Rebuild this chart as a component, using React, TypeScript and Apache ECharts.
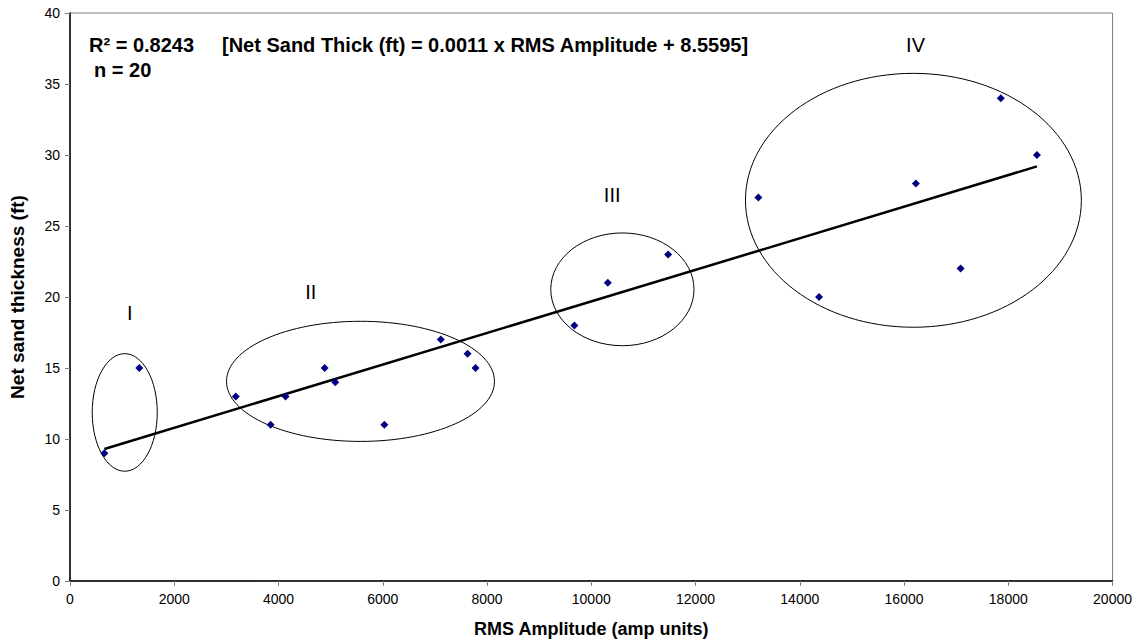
import React, { useEffect, useRef } from "react";
import * as echarts from "echarts";

const rmsAmplitude = [660, 1330, 3181, 3849, 4135, 4885, 5089, 6031, 7112, 7627, 7780, 9676, 10318, 11475, 13206, 14370, 16227, 17086, 17857, 18550];
const netSand = [9, 15, 13, 11, 13, 15, 14, 11, 17, 16, 15, 18, 21, 23, 27, 20, 28, 22, 34, 30];

// cluster ellipses (data units): centre x, centre y, radius x, radius y
const clusterNames = ["I", "II", "III", "IV"];
const clusterCx = [1050, 5573, 10597, 16180];
const clusterCy = [11.87, 14.06, 20.54, 26.81];
const clusterRx = [624, 2570, 1374, 3222];
const clusterRy = [4.14, 4.23, 3.97, 8.94];
const clusterLabelX = [1145, 4618, 10401, 16221];
const clusterLabelY = [18.87, 20.35, 27.18, 37.75];

const FONT = 'Arial, "Liberation Sans", sans-serif';

function regression(xs: number[], ys: number[]) {
  const n = xs.length;
  const mx = xs.reduce((a, b) => a + b, 0) / n;
  const my = ys.reduce((a, b) => a + b, 0) / n;
  let sxy = 0, sxx = 0;
  for (let i = 0; i < n; i++) {
    sxy += (xs[i] - mx) * (ys[i] - my);
    sxx += (xs[i] - mx) * (xs[i] - mx);
  }
  const slope = sxy / sxx;
  return { slope, intercept: my - slope * mx };
}

export default function App() {
  const ref = useRef<HTMLDivElement>(null);
  useEffect(() => {
    if (!ref.current) return;
    const chart = echarts.init(ref.current, null, { renderer: "svg" });
    const { slope, intercept } = regression(rmsAmplitude, netSand);
    const xmin = Math.min(...rmsAmplitude);
    const xmax = Math.max(...rmsAmplitude);
    const trend = [
      [xmin, slope * xmin + intercept],
      [xmax, slope * xmax + intercept],
    ];
    const clusters = clusterNames.map((n, i) => [
      clusterCx[i], clusterCy[i], clusterRx[i], clusterRy[i], clusterLabelX[i], clusterLabelY[i], n,
    ]);
    chart.setOption({
      animation: false,
      backgroundColor: "#ffffff",
      grid: {
        left: 70, right: 17, top: 13, bottom: 63,
        show: true, borderColor: "#808080", borderWidth: 1, backgroundColor: "transparent",
      },
      xAxis: {
        type: "value", min: 0, max: 20000, interval: 2000,
        name: "RMS Amplitude (amp units)", nameLocation: "middle", nameGap: 39,
        nameTextStyle: { fontFamily: FONT, fontSize: 18, fontWeight: "bold", color: "#000" },
        axisLine: { show: true, onZero: false, lineStyle: { color: "#000", width: 1.5 } },
        axisTick: { show: true, length: 5, lineStyle: { color: "#808080" } },
        axisLabel: { fontFamily: FONT, fontSize: 14, color: "#000", margin: 11, formatter: (v: number) => String(v) },
        splitLine: { show: false },
      },
      yAxis: {
        type: "value", min: 0, max: 40, interval: 5,
        name: "Net sand thickness (ft)", nameLocation: "middle", nameGap: 43,
        nameTextStyle: { fontFamily: FONT, fontSize: 19, fontWeight: "bold", color: "#000" },
        axisLine: { show: true, onZero: false, lineStyle: { color: "#000", width: 1.5 } },
        axisTick: { show: true, length: 5, lineStyle: { color: "#808080" } },
        axisLabel: { fontFamily: FONT, fontSize: 14, color: "#000", margin: 10 },
        splitLine: { show: false },
      },
      graphic: [
        { type: "text", left: 89, top: 35, style: { text: "R² = 0.8243", font: `bold 20px ${FONT}`, fill: "#000" } },
        { type: "text", left: 222, top: 35, style: { text: "[Net Sand Thick (ft) = 0.0011 x RMS Amplitude + 8.5595]", font: `bold 20px ${FONT}`, fill: "#000" } },
        { type: "text", left: 94, top: 60, style: { text: "n = 20", font: `bold 20px ${FONT}`, fill: "#000" } },
      ],
      series: [
        {
          type: "custom",
          data: clusters,
          silent: true,
          z: 1,
          renderItem: (params: any, api: any) => {
            const c = api.coord([api.value(0), api.value(1)]);
            const s = api.size([api.value(2), api.value(3)]);
            const l = api.coord([api.value(4), api.value(5)]);
            return {
              type: "group",
              children: [
                {
                  type: "ellipse",
                  shape: { cx: c[0], cy: c[1], rx: s[0], ry: s[1] },
                  style: { fill: "none", stroke: "#000", lineWidth: 1 },
                },
                {
                  type: "text",
                  x: l[0], y: l[1],
                  style: {
                    text: clusterNames[params.dataIndex],
                    font: `20px ${FONT}`, fill: "#000",
                    align: "center", verticalAlign: "middle",
                  },
                },
              ],
            };
          },
        },
        {
          type: "line",
          data: trend,
          symbol: "none",
          z: 2,
          lineStyle: { color: "#000", width: 2.5 },
        },
        {
          type: "scatter",
          data: rmsAmplitude.map((x, i) => [x, netSand[i]]),
          symbol: "diamond",
          symbolSize: 8,
          z: 3,
          itemStyle: { color: "#000080", opacity: 1 },
        },
      ],
    });
    return () => chart.dispose();
  }, []);
  return (
    <div
      ref={ref}
      style={{ position: "fixed", left: 0, top: 0, width: 1135, height: 644, background: "#fff" }}
    />
  );
}
